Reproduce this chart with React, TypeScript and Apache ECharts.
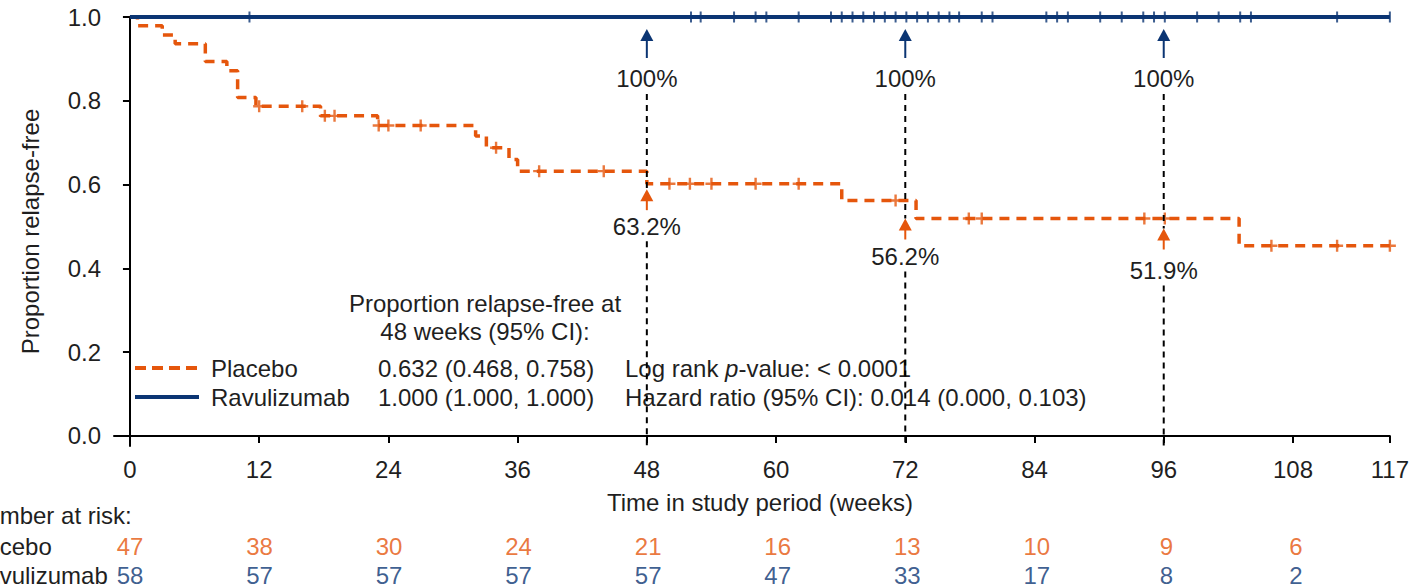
import React, { useEffect, useRef } from "react";
import * as echarts from "echarts";

const FONT = "'Liberation Sans', Arial, Helvetica, sans-serif";
const ORANGE = "#E5560C";
const NAVY = "#0B3573";
const TEXT = "#1f1f1f";
const FS = 24;

// axis ticks
const xTicks = [0, 12, 24, 36, 48, 60, 72, 84, 96, 108, 117];
const yTicks = [0, 0.2, 0.4, 0.6, 0.8, 1.0];

// Kaplan-Meier step data (time in weeks, proportion relapse-free)
const placeboTimes = [0, 0.7, 3.0, 4.2, 7.0, 9.0, 10.0, 11.7, 17.7, 23.0, 32.1, 33.1, 35.2, 36.0, 48.0, 66.1, 73.0, 103.0, 117];
const placeboSurv = [1.0, 0.979, 0.957, 0.936, 0.894, 0.872, 0.808, 0.787, 0.764, 0.741, 0.716, 0.688, 0.66, 0.632, 0.602, 0.562, 0.519, 0.454, 0.454];
const placeboCensor = [12.0, 16.0, 18.1, 19.0, 23.1, 24.0, 27.0, 34.0, 38.0, 44.0, 50.1, 52.0, 54.0, 58.1, 62.1, 71.1, 77.9, 79.1, 94.2, 96.1, 106.0, 112.1, 117.0];

const ravTimes = [0, 117];
const ravSurv = [1.0, 1.0];
const ravCensor = [11.1, 52.1, 53.0, 56.1, 58.1, 59.1, 62.1, 65.1, 66.1, 67.1, 68.1, 69.1, 70.1, 71.1, 72.1, 73.1, 74.1, 75.1, 76.1, 77.0, 79.1, 80.1, 85.1, 86.1, 87.1, 90.1, 92.1, 94.1, 95.1, 96.1, 99.1, 101.1, 103.1, 104.1, 112.1, 117.0];

// number at risk
const riskTimes = [0, 12, 24, 36, 48, 60, 72, 84, 96, 108];
const riskPlacebo = [47, 38, 30, 24, 21, 16, 13, 10, 9, 6];
const riskRav = [58, 57, 57, 57, 57, 47, 33, 17, 8, 2];

// annotations
const annotTimes = [48, 72, 96];
const annotRav = [100, 100, 100];
const annotPlacebo = [63.2, 56.2, 51.9];

const X_MIN = -1.48;
const Y_MIN = -0.024;

function survAt(times: number[], surv: number[], t: number) {
  let v = surv[0];
  for (let i = 0; i < times.length; i++) if (times[i] <= t) v = surv[i];
  return v;
}

function arrow(x: number, tip: number, color: string, len: number) {
  return [
    { type: "line", shape: { x1: x, y1: tip + 10, x2: x, y2: tip + len }, style: { stroke: color, lineWidth: 2 } },
    { type: "polygon", shape: { points: [[x, tip], [x - 6.5, tip + 12], [x + 6.5, tip + 12]] }, style: { fill: color } },
  ];
}

const tipGap = [18, 18, 10];
const textGap = [55, 56, 52];

export default function App() {
  const ref = useRef<HTMLDivElement>(null);
  useEffect(() => {
    if (!ref.current) return;
    const chart = echarts.init(ref.current, undefined, { renderer: "svg" });
    const txt = (text: string, x: number, y: number, align = "left", fill = TEXT) => ({
      type: "text",
      x,
      y,
      style: { text, fontSize: FS, fontFamily: FONT, fill, align, verticalAlign: "middle" },
      silent: true,
    });
    chart.setOption({
      animation: false,
      backgroundColor: "#ffffff",
      textStyle: { fontFamily: FONT },
      grid: [
        { left: 114, right: 19, top: 17, bottom: 141 },
        { left: 114, right: 19, top: 546, height: 29 },
      ],
      xAxis: [
        {
          type: "value",
          gridIndex: 0,
          min: X_MIN,
          max: 117,
          name: "Time in study period (weeks)",
          nameLocation: "middle",
          nameGap: 44,
          nameTextStyle: { fontSize: FS, color: TEXT, fontFamily: FONT, padding: [0, 0, 0, 16] },
          axisLine: { lineStyle: { color: "#000", width: 2 } },
          axisTick: { customValues: xTicks, length: 7, lineStyle: { color: "#000", width: 2 } },
          axisLabel: { customValues: xTicks, fontSize: FS, color: TEXT, margin: 11, fontFamily: FONT },
          splitLine: { show: false },
        },
        { type: "value", gridIndex: 1, min: X_MIN, max: 117, show: false },
      ],
      yAxis: [
        {
          type: "value",
          gridIndex: 0,
          min: Y_MIN,
          max: 1,
          name: "Proportion relapse-free",
          nameLocation: "middle",
          nameGap: 72,
          nameTextStyle: { fontSize: FS, color: TEXT, fontFamily: FONT },
          axisLine: { show: true, lineStyle: { color: "#000", width: 2 } },
          axisTick: { show: true, customValues: yTicks, length: 7, lineStyle: { color: "#000", width: 2 } },
          axisLabel: { customValues: yTicks, fontSize: FS, color: TEXT, margin: 13, fontFamily: FONT, formatter: (v: number) => v.toFixed(1) },
          splitLine: { show: false },
        },
        { type: "value", gridIndex: 1, min: 0, max: 1, show: false },
      ],
      series: [
        {
          type: "line",
          name: "Placebo",
          step: "end",
          showSymbol: false,
          silent: true,
          data: placeboTimes.map((t, i) => [t, placeboSurv[i]]),
          lineStyle: { color: ORANGE, width: 3.5, type: [10, 7], cap: "butt" },
          z: 3,
        },
        {
          type: "line",
          name: "Ravulizumab",
          showSymbol: false,
          silent: true,
          data: ravTimes.map((t, i) => [t, ravSurv[i]]),
          lineStyle: { color: NAVY, width: 4 },
          z: 4,
        },
        {
          type: "scatter",
          silent: true,
          symbol: "path://M4,0h2v4h4v2h-4v4h-2v-4h-4v-2h4z",
          symbolSize: [12, 12],
          itemStyle: { color: ORANGE },
          data: placeboCensor.map((t) => [t, survAt(placeboTimes, placeboSurv, t)]),
          z: 5,
        },
        {
          type: "scatter",
          silent: true,
          symbol: "rect",
          symbolSize: [2, 11],
          itemStyle: { color: NAVY },
          data: ravCensor.map((t) => [t, survAt(ravTimes, ravSurv, t)]),
          z: 5,
        },
        {
          type: "custom",
          silent: true,
          clip: false,
          z: 6,
          data: annotTimes.map((t, i) => [t, annotRav[i], annotPlacebo[i]]),
          renderItem: (params: any, api: any) => {
            const i = params.dataIndex;
            const t = api.value(0);
            const rv = api.value(1);
            const pv = api.value(2);
            const top = api.coord([t, rv / 100]);
            const mid = api.coord([t, pv / 100]);
            const bot = api.coord([t, Y_MIN]);
            const x = top[0];
            const orTip = mid[1] + tipGap[i];
            const orText = mid[1] + textGap[i];
            const dash = { stroke: "#000", lineWidth: 2, lineDash: [6, 5] };
            return {
              type: "group",
              children: [
                { type: "line", shape: { x1: x, y1: top[1] + 77, x2: x, y2: orTip }, style: dash },
                { type: "line", shape: { x1: x, y1: orText + 15, x2: x, y2: bot[1] }, style: dash },
                ...arrow(x, top[1] + 12, NAVY, 29),
                {
                  type: "text",
                  style: { text: `${rv.toFixed(0)}%`, x, y: top[1] + 61, align: "center", verticalAlign: "middle", fontSize: FS, fontFamily: FONT, fill: TEXT },
                },
                ...arrow(x, orTip, ORANGE, 21),
                {
                  type: "text",
                  style: { text: `${pv.toFixed(1)}%`, x, y: orText, align: "center", verticalAlign: "middle", fontSize: FS, fontFamily: FONT, fill: TEXT },
                },
              ],
            };
          },
        },
        {
          type: "scatter",
          xAxisIndex: 1,
          yAxisIndex: 1,
          silent: true,
          symbolSize: 1,
          itemStyle: { color: "transparent" },
          data: riskTimes.map((t, i) => [t, 1, riskPlacebo[i]]),
          label: { show: true, position: "inside", formatter: (p: any) => String(p.value[2]), color: ORANGE, fontSize: FS, fontFamily: FONT },
        },
        {
          type: "scatter",
          xAxisIndex: 1,
          yAxisIndex: 1,
          silent: true,
          symbolSize: 1,
          itemStyle: { color: "transparent" },
          data: riskTimes.map((t, i) => [t, 0, riskRav[i]]),
          label: { show: true, position: "inside", formatter: (p: any) => String(p.value[2]), color: NAVY, fontSize: FS, fontFamily: FONT },
        },
      ],
      graphic: [
        txt("Proportion relapse-free at", 485, 303, "center"),
        txt("48 weeks (95% CI):", 485, 331, "center"),
        { type: "line", shape: { x1: 135, y1: 368, x2: 199, y2: 368 }, style: { stroke: ORANGE, lineWidth: 4, lineDash: [11, 6] }, silent: true },
        { type: "line", shape: { x1: 135, y1: 397, x2: 199, y2: 397 }, style: { stroke: NAVY, lineWidth: 4 }, silent: true },
        txt("Placebo", 211, 368),
        txt("Ravulizumab", 211, 397),
        txt("0.632 (0.468, 0.758)", 378, 368),
        txt("1.000 (1.000, 1.000)", 378, 397),
        {
          type: "text",
          x: 625,
          y: 368,
          silent: true,
          style: {
            text: "Log rank {i|p}-value: < 0.0001",
            fontSize: FS,
            fontFamily: FONT,
            fill: TEXT,
            align: "left",
            verticalAlign: "middle",
            rich: { i: { fontStyle: "italic", fontSize: FS, fontFamily: FONT, fill: TEXT } },
          },
        },
        txt("Hazard ratio (95% CI): 0.014 (0.000, 0.103)", 625, 397),
        txt("Number at risk:", -31, 515),
        txt("Placebo", -35, 546),
        txt("Ravulizumab", -31, 575),
      ],
    });
    return () => chart.dispose();
  }, []);
  return <div ref={ref} style={{ position: "fixed", left: 0, top: 0, width: 1412, height: 587, background: "#fff" }} />;
}
